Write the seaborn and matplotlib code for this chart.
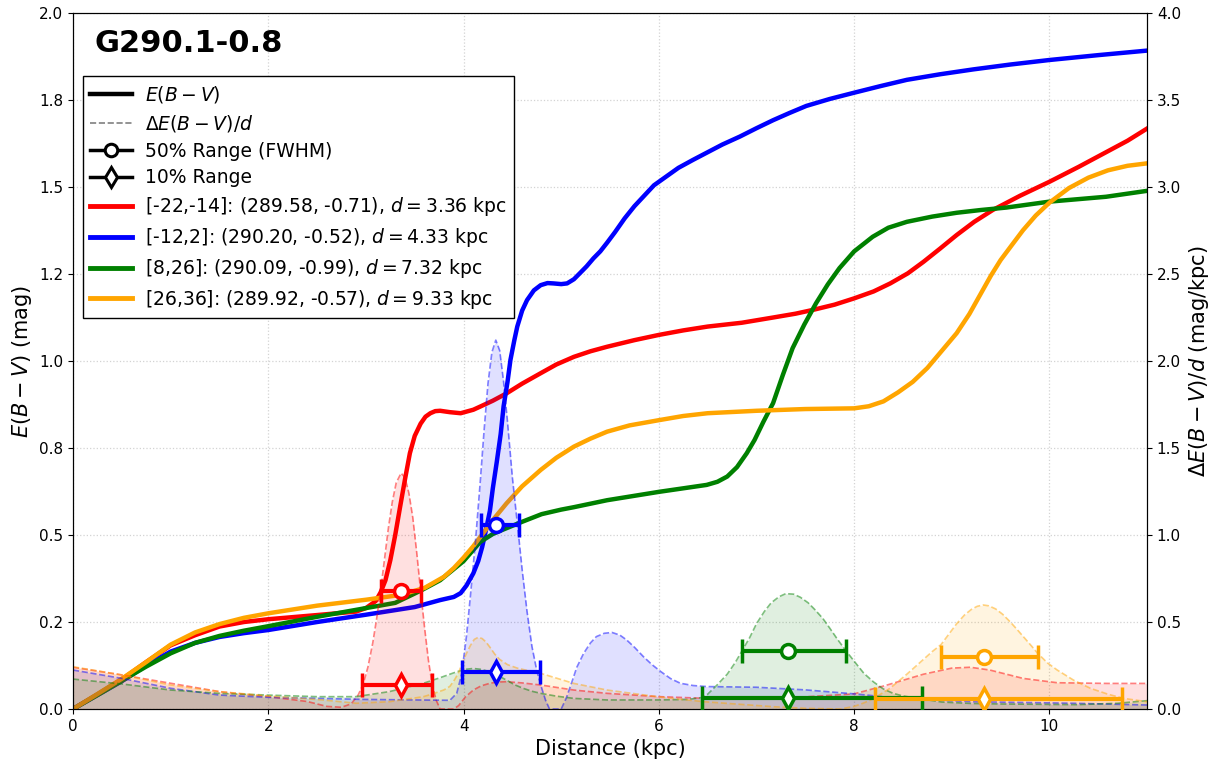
import numpy as np
import pandas as pd
import matplotlib
matplotlib.use("Agg")
import matplotlib.pyplot as plt
from matplotlib.lines import Line2D
from matplotlib.ticker import FormatStrFormatter
import seaborn as sns

# ---------------- data ----------------
labels = [r"[-22,-14]: (289.58, -0.71), $d = 3.36$ kpc",
          r"[-12,2]: (290.20, -0.52), $d = 4.33$ kpc",
          r"[8,26]: (290.09, -0.99), $d = 7.32$ kpc",
          r"[26,36]: (289.92, -0.57), $d = 9.33$ kpc"]
colors = ["red", "blue", "green", "orange"]

# cumulative reddening E(B-V) (mag)
red_d = [0, 0.25, 0.5, 0.75, 1.0, 1.25, 1.5, 1.75, 2.0, 2.5, 2.9, 3.0, 3.1, 3.15, 3.2, 3.25,
         3.3, 3.35, 3.4, 3.45, 3.5, 3.56, 3.61, 3.66, 3.71, 3.76, 3.86, 3.97, 4.1, 4.17, 4.3,
         4.44, 4.6, 4.79, 4.95, 5.13, 5.3, 5.47, 5.75, 6.0, 6.25, 6.5, 6.85, 7.17, 7.4, 7.58,
         7.8, 8.0, 8.2, 8.37, 8.55, 8.71, 8.88, 9.05, 9.23, 9.42, 9.7, 10.0, 10.3, 10.58, 10.8,
         11.0]
red_e = [0, 0.042, 0.085, 0.135, 0.183, 0.212, 0.237, 0.25, 0.258, 0.27, 0.28, 0.29, 0.31,
         0.335, 0.37, 0.428, 0.50, 0.581, 0.66, 0.735, 0.785, 0.82, 0.84, 0.85, 0.856, 0.857,
         0.853, 0.85, 0.86, 0.869, 0.886, 0.907, 0.935, 0.965, 0.99, 1.012, 1.028, 1.041, 1.06,
         1.075, 1.088, 1.099, 1.11, 1.125, 1.136, 1.147, 1.162, 1.18, 1.2, 1.223, 1.252, 1.285,
         1.323, 1.362, 1.40, 1.434, 1.475, 1.515, 1.558, 1.60, 1.633, 1.668]

blue_d = [0, 0.25, 0.5, 0.75, 1.0, 1.25, 1.5, 1.75, 2.0, 2.5, 3.0, 3.5, 3.76, 3.9, 3.97, 4.03,
          4.1, 4.15, 4.19, 4.23, 4.27, 4.3, 4.34, 4.38, 4.41, 4.45, 4.48, 4.52, 4.55, 4.6, 4.65,
          4.72, 4.79, 4.86, 4.92, 5.0, 5.06, 5.13, 5.19, 5.26, 5.33, 5.4, 5.47, 5.55, 5.65,
          5.75, 5.85, 5.95, 6.05, 6.2, 6.35, 6.5, 6.65, 6.83, 7.0, 7.17, 7.34, 7.51, 7.75, 8.0,
          8.27, 8.54, 8.88, 9.22, 9.6, 10.0, 10.5, 11.0]
blue_e = [0, 0.04, 0.08, 0.125, 0.165, 0.19, 0.207, 0.218, 0.227, 0.25, 0.271, 0.293, 0.313,
          0.322, 0.333, 0.355, 0.39, 0.425, 0.465, 0.515, 0.57, 0.635, 0.71, 0.79, 0.87, 0.94,
          1.003, 1.06, 1.099, 1.145, 1.175, 1.203, 1.218, 1.224, 1.223, 1.221, 1.223, 1.235,
          1.252, 1.272, 1.295, 1.315, 1.34, 1.37, 1.41, 1.445, 1.475, 1.505, 1.525, 1.555,
          1.578, 1.60, 1.622, 1.645, 1.669, 1.692, 1.713, 1.733, 1.753, 1.771, 1.79, 1.808,
          1.824, 1.838, 1.852, 1.865, 1.879, 1.892]

green_d = [0, 0.25, 0.5, 0.75, 1.0, 1.25, 1.5, 1.75, 2.0, 2.5, 3.0, 3.3, 3.56, 3.76, 4.0, 4.17,
           4.3, 4.4, 4.6, 4.8, 5.0, 5.13, 5.47, 6.0, 6.49, 6.6, 6.7, 6.8, 6.9, 6.98, 7.07, 7.17,
           7.27, 7.37, 7.49, 7.61, 7.73, 7.85, 8.0, 8.19, 8.35, 8.54, 8.8, 9.05, 9.3, 9.56,
           10.0, 10.58, 11.0]
green_e = [0, 0.04, 0.081, 0.122, 0.16, 0.19, 0.21, 0.225, 0.238, 0.265, 0.29, 0.305, 0.34,
           0.37, 0.425, 0.48, 0.503, 0.515, 0.538, 0.56, 0.573, 0.58, 0.60, 0.624, 0.644, 0.653,
           0.668, 0.695, 0.735, 0.773, 0.825, 0.879, 0.96, 1.037, 1.105, 1.166, 1.22, 1.267,
           1.315, 1.357, 1.383, 1.40, 1.415, 1.426, 1.434, 1.441, 1.458, 1.472, 1.489]

orange_d = [0, 0.25, 0.5, 0.75, 1.0, 1.25, 1.5, 1.75, 2.0, 2.5, 3.0, 3.36, 3.6, 3.8, 3.9, 4.0,
            4.1, 4.2, 4.32, 4.44, 4.6, 4.79, 4.95, 5.13, 5.3, 5.47, 5.7, 6.0, 6.25, 6.5, 7.0,
            7.5, 8.0, 8.15, 8.3, 8.45, 8.6, 8.75, 8.9, 9.05, 9.18, 9.3, 9.4, 9.5, 9.62, 9.73,
            9.86, 10.0, 10.2, 10.4, 10.6, 10.8, 11.0]
orange_e = [0, 0.043, 0.087, 0.135, 0.185, 0.22, 0.244, 0.262, 0.275, 0.297, 0.314, 0.328,
            0.348, 0.38, 0.405, 0.435, 0.468, 0.505, 0.55, 0.591, 0.64, 0.687, 0.722, 0.754,
            0.777, 0.797, 0.815, 0.83, 0.842, 0.85, 0.857, 0.862, 0.864, 0.87, 0.884, 0.91,
            0.94, 0.98, 1.03, 1.08, 1.135, 1.195, 1.245, 1.29, 1.335, 1.376, 1.418, 1.455,
            1.497, 1.527, 1.548, 1.561, 1.568]

# differential reddening dE(B-V)/d (mag/kpc)
red_dd = [0, 0.5, 1.0, 1.5, 2.0, 2.4, 2.6, 2.75, 2.85, 2.92, 2.97, 3.02, 3.07, 3.11, 3.15,
          3.19, 3.23, 3.27, 3.31, 3.36, 3.4, 3.44, 3.48, 3.52, 3.56, 3.6, 3.64, 3.68, 3.72,
          3.76, 3.9, 3.95, 4.02, 4.1, 4.18, 4.27, 4.35, 4.44, 4.6, 4.79, 5.13, 5.47, 6.0, 6.5,
          7.0, 7.5, 8.0, 8.32, 8.71, 9.0, 9.19, 9.39, 9.73, 10.08, 10.6, 11.0]
red_de = [0.24, 0.196, 0.148, 0.10, 0.071, 0.043, 0.015, 0.01, 0.03, 0.08, 0.14, 0.24, 0.38,
          0.52, 0.68, 0.86, 1.04, 1.19, 1.30, 1.356, 1.33, 1.24, 1.10, 0.90, 0.68, 0.47, 0.28,
          0.136, 0.05, 0.0, 0.0, 0.02, 0.07, 0.109, 0.133, 0.148, 0.155, 0.157, 0.15, 0.138,
          0.109, 0.09, 0.071, 0.061, 0.062, 0.07, 0.087, 0.135, 0.2, 0.235, 0.24, 0.224, 0.176,
          0.151, 0.147, 0.147]

blue_dd = [0, 0.5, 1.0, 1.5, 2.0, 2.5, 3.0, 3.5, 3.86, 3.93, 3.98, 4.03, 4.07, 4.12, 4.17,
           4.21, 4.25, 4.29, 4.33, 4.37, 4.41, 4.45, 4.5, 4.55, 4.6, 4.65, 4.7, 4.75, 4.8, 4.84,
           4.88, 5.0, 5.05, 5.1, 5.16, 5.23, 5.3, 5.36, 5.44, 5.52, 5.6, 5.67, 5.75, 5.84, 5.93,
           6.02, 6.12, 6.22, 6.35, 6.49, 7.0, 7.5, 8.0, 8.5, 9.22, 10.25, 11.0]
blue_de = [0.224, 0.176, 0.119, 0.08, 0.067, 0.061, 0.055, 0.052, 0.05, 0.09, 0.2, 0.42, 0.65,
           0.95, 1.3, 1.6, 1.87, 2.05, 2.12, 2.06, 1.88, 1.65, 1.33, 1.07, 0.8, 0.56, 0.36,
           0.22, 0.12, 0.05, 0.0, 0.0, 0.06, 0.14, 0.24, 0.32, 0.38, 0.416, 0.435, 0.44, 0.425,
           0.397, 0.355, 0.302, 0.255, 0.215, 0.175, 0.148, 0.135, 0.129, 0.125, 0.11, 0.087,
           0.06, 0.042, 0.033, 0.023]

green_dd = [0, 0.5, 1.0, 1.5, 2.0, 2.5, 2.9, 3.24, 3.59, 3.76, 3.93, 4.02, 4.1, 4.18, 4.27,
            4.36, 4.44, 4.52, 4.61, 4.7, 4.79, 4.95, 5.13, 5.47, 6.0, 6.3, 6.44, 6.5, 6.6, 6.7,
            6.78, 6.85, 6.93, 7.0, 7.08, 7.15, 7.23, 7.3, 7.38, 7.45, 7.53, 7.6, 7.68, 7.75,
            7.83, 7.92, 8.0, 8.1, 8.2, 8.3, 8.4, 8.5, 8.69, 8.9, 9.2, 9.5, 10.28, 10.7, 11.0]
green_de = [0.172, 0.144, 0.109, 0.09, 0.08, 0.071, 0.071, 0.1, 0.148, 0.18, 0.214, 0.228,
            0.233, 0.228, 0.214, 0.19, 0.166, 0.14, 0.119, 0.102, 0.09, 0.074, 0.061, 0.052,
            0.052, 0.055, 0.066, 0.085, 0.14, 0.2, 0.265, 0.332, 0.41, 0.49, 0.56, 0.61, 0.645,
            0.663, 0.66, 0.642, 0.61, 0.57, 0.52, 0.465, 0.40, 0.332, 0.275, 0.205, 0.155,
            0.115, 0.09, 0.075, 0.058, 0.04, 0.032, 0.029, 0.025, 0.033, 0.048]

orange_dd = [0, 0.5, 1.0, 1.5, 2.0, 2.56, 2.9, 3.24, 3.59, 3.7, 3.8, 3.86, 3.91, 3.95, 3.99,
             4.03, 4.07, 4.11, 4.15, 4.19, 4.23, 4.27, 4.32, 4.37, 4.45, 4.55, 4.65, 4.79, 5.13,
             5.47, 5.98, 6.46, 7.18, 7.5, 7.86, 8.0, 8.1, 8.2, 8.37, 8.54, 8.7, 8.8, 8.89, 8.97,
             9.05, 9.13, 9.2, 9.26, 9.32, 9.38, 9.45, 9.52, 9.6, 9.68, 9.75, 9.82, 9.88, 9.98,
             10.08, 10.25, 10.42, 10.6, 10.76, 11.0]
orange_de = [0.243, 0.196, 0.138, 0.10, 0.075, 0.052, 0.033, 0.042, 0.071, 0.09, 0.11, 0.13,
             0.17, 0.21, 0.27, 0.32, 0.365, 0.40, 0.412, 0.405, 0.385, 0.355, 0.315, 0.285,
             0.255, 0.235, 0.222, 0.205, 0.147, 0.109, 0.071, 0.042, 0.013, 0.004, 0.0, 0.015,
             0.035, 0.06, 0.12, 0.2, 0.28, 0.33, 0.37, 0.43, 0.49, 0.54, 0.572, 0.59, 0.598,
             0.593, 0.575, 0.545, 0.50, 0.45, 0.405, 0.36, 0.32, 0.265, 0.224, 0.165, 0.119,
             0.085, 0.061, 0.042]

# peak distances and ranges (kpc), marker heights (mag/kpc)
peak_d = [3.36, 4.33, 7.32, 9.33]
fwhm_lo = [3.15, 4.18, 6.85, 8.89]
fwhm_hi = [3.56, 4.57, 7.92, 9.88]
ten_lo = [2.96, 3.98, 6.44, 8.21]
ten_hi = [3.68, 4.78, 8.69, 10.74]
fwhm_y = [0.678, 1.06, 0.332, 0.299]
ten_y = [0.136, 0.212, 0.066, 0.060]

ebv_tick_vals = [0, 0.25, 0.5, 0.75, 1.0, 1.25, 1.5, 1.75, 2.0]
dens_tick_vals = [0, 0.5, 1.0, 1.5, 2.0, 2.5, 3.0, 3.5, 4.0]
dist_tick_vals = [0, 2, 4, 6, 8, 10]

E_series = [(red_d, red_e), (blue_d, blue_e), (green_d, green_e), (orange_d, orange_e)]
D_series = [(red_dd, red_de), (blue_dd, blue_de), (green_dd, green_de), (orange_dd, orange_de)]

# ---------------- plot ----------------
plt.rcParams["font.family"] = ["DejaVu Sans"]
plt.rcParams["mathtext.fontset"] = "dejavusans"

fig = plt.figure(figsize=(12.23, 7.66), dpi=100)
ax = fig.add_axes([0.0597, 0.0744, 0.8782, 0.9086])
ax2 = ax.twinx()

for (d, e), c in zip(E_series, colors):
    df = pd.DataFrame({"d": d, "e": e})
    sns.lineplot(data=df, x="d", y="e", ax=ax, color=c, lw=3.2, legend=False)

for (d, v), c in zip(D_series, colors):
    df = pd.DataFrame({"d": d, "v": v})
    ax2.fill_between(df["d"], 0, df["v"], color=c, alpha=0.12, lw=0)
    sns.lineplot(data=df, x="d", y="v", ax=ax2, color=c, lw=1.2, alpha=0.5,
                 linestyle="--", legend=False)

for i, c in enumerate(colors):
    ax2.errorbar([peak_d[i]], [fwhm_y[i]],
                 xerr=[[peak_d[i] - fwhm_lo[i]], [fwhm_hi[i] - peak_d[i]]],
                 fmt="o", color=c, mfc="white", mec=c, ms=10, mew=2.5,
                 elinewidth=3, capsize=8.5, capthick=2.5, zorder=10)
    ax2.errorbar([peak_d[i]], [ten_y[i]],
                 xerr=[[peak_d[i] - ten_lo[i]], [ten_hi[i] - peak_d[i]]],
                 fmt="d", color=c, mfc="white", mec=c, ms=11, mew=2.5,
                 elinewidth=3, capsize=8.5, capthick=2.5, zorder=10)

ax.set_xlim(0, 11)
ax.set_ylim(0, 2.0)
ax2.set_ylim(0, 4.0)
ax.set_xticks(dist_tick_vals)
ax.set_yticks(ebv_tick_vals)
ax2.set_yticks(dens_tick_vals)
ax.yaxis.set_major_formatter(FormatStrFormatter("%.1f"))
ax2.yaxis.set_major_formatter(FormatStrFormatter("%.1f"))
ax.tick_params(labelsize=11)
ax2.tick_params(labelsize=11)
ax.grid(True, linestyle=":", color="lightgray", lw=0.9)
ax.set_xlabel("Distance (kpc)", fontsize=15)
ax.set_ylabel(r"$E(B-V)$ (mag)", fontsize=15)
ax2.set_ylabel(r"$\Delta E(B-V)/d$ (mag/kpc)", fontsize=15)

ax.text(0.02, 0.977, "G290.1-0.8", transform=ax.transAxes, fontsize=22,
        fontweight="bold", va="top", ha="left")

handles = [Line2D([0], [0], color="black", lw=3.2),
           Line2D([0], [0], color="gray", lw=1.2, ls="--"),
           Line2D([0], [0], color="black", lw=2.5, marker="o", mfc="white", mec="black",
                  ms=9, mew=2.2),
           Line2D([0], [0], color="black", lw=2.5, marker="d", mfc="white", mec="black",
                  ms=10, mew=2.2)]
handles += [Line2D([0], [0], color=c, lw=3.5) for c in colors]
leg_labels = [r"$E(B-V)$", r"$\Delta E(B-V)/d$", "50% Range (FWHM)", "10% Range"] + labels
leg = ax2.legend(handles, leg_labels, loc="upper left", bbox_to_anchor=(0.009, 0.909),
                 borderaxespad=0, fontsize=13.5, fancybox=False, framealpha=1,
                 edgecolor="black", handlelength=2.25, handletextpad=0.65,
                 labelspacing=0.42, borderpad=0.4)
leg.get_frame().set_linewidth(1.0)
leg.set_zorder(20)

fig.savefig("out.png", dpi=100)
